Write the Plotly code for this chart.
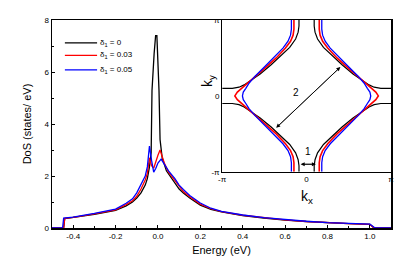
import numpy as np
import plotly.graph_objects as go

# ---------------- DoS data (main panel) ----------------
energy_black = [-0.5, -0.445, -0.44, -0.4, -0.3, -0.2, -0.15, -0.12, -0.1, -0.08, -0.06, -0.05, -0.04,
                -0.032, -0.028, -0.018, -0.011, -0.005, 0.0, 0.005, 0.01, 0.02, 0.04, 0.06, 0.08, 0.1,
                0.12, 0.15, 0.2, 0.25, 0.3, 0.4, 0.5, 0.6, 0.7, 0.8, 0.9, 1.0, 1.02, 1.1]
dos_black = [0, 0, 0.36, 0.4, 0.52, 0.68, 0.85, 1.0, 1.15, 1.35, 1.65, 1.9, 2.35,
             2.9, 5.3, 6.7, 7.4, 7.4, 6.5, 5.3, 3.4, 2.7, 2.2, 1.95, 1.72, 1.5,
             1.35, 1.15, 0.88, 0.72, 0.62, 0.48, 0.38, 0.3, 0.25, 0.2, 0.17, 0.14, 0, 0]

energy_red = [-0.5, -0.445, -0.44, -0.4, -0.3, -0.2, -0.15, -0.12, -0.1, -0.08, -0.06, -0.05, -0.04,
              -0.03, -0.02, -0.01, 0.0, 0.01, 0.02, 0.03, 0.05, 0.08, 0.1, 0.12, 0.15, 0.2, 0.25,
              0.3, 0.4, 0.5, 0.6, 0.7, 0.8, 0.9, 1.0, 1.02, 1.1]
dos_red = [0, 0, 0.37, 0.41, 0.54, 0.7, 0.9, 1.05, 1.22, 1.5, 1.85, 2.1, 2.7,
           2.4, 2.3, 2.6, 2.8, 3.0, 2.75, 2.5, 2.15, 1.82, 1.58, 1.4, 1.2, 0.92, 0.74,
           0.63, 0.49, 0.39, 0.31, 0.25, 0.2, 0.17, 0.14, 0, 0]

energy_blue = [-0.5, -0.45, -0.445, -0.4, -0.3, -0.2, -0.15, -0.12, -0.1, -0.08, -0.06, -0.05, -0.04,
               -0.03, -0.02, -0.01, 0.0, 0.015, 0.03, 0.05, 0.08, 0.1, 0.12, 0.15, 0.2, 0.25,
               0.3, 0.4, 0.5, 0.6, 0.7, 0.8, 0.9, 1.0, 1.025, 1.1]
dos_blue = [0, 0, 0.38, 0.42, 0.56, 0.73, 0.95, 1.12, 1.35, 1.65, 2.0, 2.35, 3.15,
            2.6, 2.15, 2.3, 2.5, 2.65, 2.45, 2.2, 1.9, 1.65, 1.48, 1.25, 0.96, 0.76,
            0.64, 0.5, 0.4, 0.32, 0.26, 0.21, 0.18, 0.15, 0, 0]

legend_labels = ["δ<sub>1</sub> = 0", "δ<sub>1</sub> = 0.03", "δ<sub>1</sub> = 0.05"]
colors = ["#000000", "#ff0000", "#0000ff"]

x_ticks = [-0.4, -0.2, 0.0, 0.2, 0.4, 0.6, 0.8, 1.0]
x_ticklabels = ["-0.4", "-0.2", "0.0", "0.2", "0.4", "0.6", "0.8", "1.0"]
y_ticks = [0, 2, 4, 6, 8]

# ---------------- Fermi surface (inset), upper-left quadrant, units of pi ----------------
fs_black_kx = [-0.09, -0.09, -0.10, -0.13, -0.20, -0.30, -0.42, -0.55, -0.66, -0.74, -0.80, -0.88, -1.0]
fs_black_ky = [1.0, 0.92, 0.84, 0.75, 0.64, 0.53, 0.41, 0.29, 0.20, 0.145, 0.115, 0.10, 0.10]

fs_red_kx = [-0.15, -0.15, -0.16, -0.19, -0.25, -0.36, -0.50, -0.63, -0.71, -0.77, -0.82, -0.85]
fs_red_ky = [1.0, 0.88, 0.80, 0.72, 0.63, 0.50, 0.36, 0.24, 0.16, 0.10, 0.05, 0.0]

fs_blue_kx = [-0.18, -0.18, -0.19, -0.22, -0.28, -0.38, -0.50, -0.61, -0.68, -0.72, -0.75, -0.76]
fs_blue_ky = [1.0, 0.88, 0.80, 0.72, 0.63, 0.51, 0.38, 0.26, 0.17, 0.10, 0.05, 0.0]

arrow2_start = (-0.36, -0.42)
arrow2_end = (0.40, 0.38)
arrow1_start = (-0.07, -0.90)
arrow1_end = (0.11, -0.90)

inset_ticks = [-1, 0, 1]
inset_ticklabels = ["-π", "0", "π"]


def black_full(kx, ky):
    kx = np.array(kx); ky = np.array(ky)
    xs, ys = [], []
    for sx, sy in [(1, 1), (-1, 1), (1, -1), (-1, -1)]:
        xs += list(sx * kx) + [None]
        ys += list(sy * ky) + [None]
    return xs, ys


def lobe_full(kx, ky):
    kx = np.array(kx); ky = np.array(ky)
    xs, ys = [], []
    for sx in [1, -1]:
        x_half = list(sx * kx) + list(sx * kx[::-1][1:])
        y_half = list(ky) + list(-ky[::-1][1:])
        xs += x_half + [None]
        ys += y_half + [None]
    return xs, ys


fig = go.Figure()

for e, d, name, c in [(energy_black, dos_black, legend_labels[0], colors[0]),
                      (energy_red, dos_red, legend_labels[1], colors[1]),
                      (energy_blue, dos_blue, legend_labels[2], colors[2])]:
    fig.add_trace(go.Scatter(x=e, y=d, mode="lines", name=name, showlegend=False,
                             line=dict(color=c, width=1.3), xaxis="x", yaxis="y"))

bx, by = black_full(fs_black_kx, fs_black_ky)
rx, ry = lobe_full(fs_red_kx, fs_red_ky)
blx, bly = lobe_full(fs_blue_kx, fs_blue_ky)
fig.add_trace(go.Scatter(x=bx, y=by, mode="lines", line=dict(color=colors[0], width=1.2),
                         xaxis="x2", yaxis="y2", showlegend=False))
fig.add_trace(go.Scatter(x=rx, y=ry, mode="lines", line=dict(color=colors[1], width=1.6),
                         xaxis="x2", yaxis="y2", showlegend=False))
fig.add_trace(go.Scatter(x=blx, y=bly, mode="lines", line=dict(color=colors[2], width=1.3),
                         xaxis="x2", yaxis="y2", showlegend=False))

annotations = []
shapes = []
# manual legend (paper coords)
leg_y = [0.89, 0.83, 0.76]
for lbl, c, yy in zip(legend_labels, colors, leg_y):
    shapes.append(dict(type="line", xref="paper", yref="paper", x0=0.038, x1=0.133, y0=yy, y1=yy,
                       line=dict(color=c, width=1.3)))
    annotations.append(dict(x=0.136, y=yy, xref="paper", yref="paper", text=lbl, showarrow=False,
                            xanchor="left", yanchor="middle",
                            font=dict(family="Liberation Sans", size=8, color="black")))

for (s, e) in [(arrow2_start, arrow2_end), (arrow1_start, arrow1_end)]:
    for a, b in [(s, e), (e, s)]:
        annotations.append(dict(x=b[0], y=b[1], ax=a[0], ay=a[1], xref="x2", yref="y2",
                                axref="x2", ayref="y2", showarrow=True, arrowhead=2,
                                arrowsize=1, arrowwidth=0.8, arrowcolor="black", text=""))
annotations.append(dict(x=-0.12, y=0.05, xref="x2", yref="y2", text="2", showarrow=False,
                        font=dict(size=10, color="black", family="Arial")))
annotations.append(dict(x=0.02, y=-0.73, xref="x2", yref="y2", text="1", showarrow=False,
                        font=dict(size=10, color="black", family="Arial")))
annotations.append(dict(x=0.0, y=-1.0, xref="x2", yref="y2", yshift=-25, text="k<sub>x</sub>",
                        showarrow=False, font=dict(size=14, color="black", family="Arial")))
annotations.append(dict(x=-1.0, y=0.2, xref="x2", yref="y2", xshift=-14, text="k<sub>y</sub>",
                        textangle=-90, showarrow=False, font=dict(size=14, color="black", family="Arial")))

tickfont = dict(family="Liberation Sans", size=8, color="black")

fig.update_layout(
    width=409, height=273,
    margin=dict(l=52, r=18, t=20, b=45),
    paper_bgcolor="white", plot_bgcolor="white",
    showlegend=False,
    xaxis=dict(domain=[0, 1], range=[-0.5, 1.1], tickvals=x_ticks, ticktext=x_ticklabels,
               ticks="inside", ticklen=3, tickcolor="black", showline=True, linecolor="black",
               linewidth=1.5, mirror=True, showgrid=False, zeroline=False, tickfont=tickfont,
               automargin=False,
               minor=dict(dtick=0.1, ticks="inside", ticklen=2, tickcolor="black"),
               title=dict(text="Energy (eV)", font=dict(family="Arial", size=11, color="black"),
                          standoff=6)),
    yaxis=dict(domain=[0, 1], range=[0, 8], tickvals=y_ticks, ticks="inside", ticklen=3,
               tickcolor="black", showline=True, linecolor="black", linewidth=1.5, mirror=True,
               showgrid=False, zeroline=False, tickfont=tickfont, automargin=False,
               minor=dict(dtick=1, ticks="inside", ticklen=2, tickcolor="black"),
               title=dict(text="DoS (states/ eV)", font=dict(family="Arial", size=11, color="black"),
                          standoff=10)),
    xaxis2=dict(domain=[0.502, 1.0], anchor="y2", range=[-1, 1], tickvals=inset_ticks,
                ticktext=inset_ticklabels, ticks="", showline=True, linecolor="black", linewidth=1,
                mirror=True, showgrid=False, zeroline=False, tickfont=tickfont, automargin=False),
    yaxis2=dict(domain=[0.27, 1.0], anchor="x2", range=[-1, 1], tickvals=inset_ticks,
                ticktext=inset_ticklabels, ticks="", showline=True, linecolor="black", linewidth=1,
                mirror=True, showgrid=False, zeroline=False, tickfont=tickfont, automargin=False),
    annotations=annotations,
    shapes=shapes,
)

fig.write_html("out.html",
               config={"displayModeBar": False, "staticPlot": True},
               post_script="document.body.style.margin='0';document.body.style.overflow='hidden';")
